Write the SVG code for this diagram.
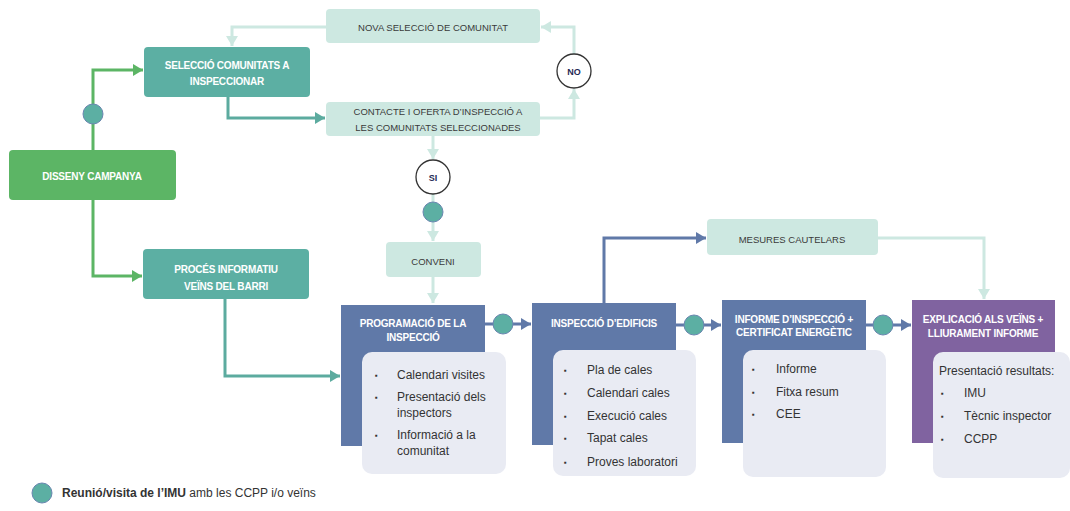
<svg xmlns="http://www.w3.org/2000/svg" width="1070" height="511" viewBox="0 0 1070 511">
<style>
.bg{fill:#ffffff}
.green{fill:#5cb565}
.teal{fill:#5cafa3}
.lt{fill:#cde8e1}
.dark{fill:#6079a8}
.purple{fill:#8063a0}
.card{fill:#e9ebf3}
.dot{fill:#5cafa3;stroke:#6a86b0;stroke-width:1}
.dec{fill:#ffffff;stroke:#333333;stroke-width:1.3}
.wt{font-family:"Liberation Sans",Arial,sans-serif;font-weight:bold;font-size:10px;fill:#ffffff;text-anchor:middle;letter-spacing:-0.2px}
.gt{font-family:"Liberation Sans",Arial,sans-serif;font-size:9.5px;fill:#3a3a3a;text-anchor:middle}
.dt{font-family:"Liberation Sans",Arial,sans-serif;font-weight:bold;font-size:9px;fill:#1f2a55;text-anchor:middle}
.lst{font-family:"Liberation Sans",Arial,sans-serif;font-size:12px;fill:#333333}
.bul{font-family:"Liberation Sans",Arial,sans-serif;font-size:8px;fill:#333333}
.leg{font-family:"Liberation Sans",Arial,sans-serif;font-size:12px;fill:#333333}
.c-green{fill:none;stroke:#5cb565;stroke-width:3}
.c-teal{fill:none;stroke:#5cab9f;stroke-width:3}
.c-lt{fill:none;stroke:#cde8e1;stroke-width:3}
.c-blue{fill:none;stroke:#6079a8;stroke-width:3}
</style>
<defs>
<marker id="ag" markerUnits="userSpaceOnUse" markerWidth="12" markerHeight="12" refX="10" refY="6" orient="auto"><path d="M0,0 L10,6 L0,12 Z" fill="#5cb565"/></marker>
<marker id="at" markerUnits="userSpaceOnUse" markerWidth="12" markerHeight="12" refX="10" refY="6" orient="auto"><path d="M0,0 L10,6 L0,12 Z" fill="#5cab9f"/></marker>
<marker id="al" markerUnits="userSpaceOnUse" markerWidth="12" markerHeight="12" refX="10" refY="6" orient="auto"><path d="M0,0 L10,6 L0,12 Z" fill="#cde8e1"/></marker>
<marker id="ab" markerUnits="userSpaceOnUse" markerWidth="12" markerHeight="12" refX="10" refY="6" orient="auto"><path d="M0,0 L10,6 L0,12 Z" fill="#6079a8"/></marker>
</defs>
<rect class="bg" x="0" y="0" width="1070" height="511"/>

<g id="connectors">
<path class="c-green" d="M93,150 V70 H143" marker-end="url(#ag)"/>
<path class="c-green" d="M93,200 V276 H142" marker-end="url(#ag)"/>
<path class="c-lt" d="M326,27 H232 V46" marker-end="url(#al)"/>
<path class="c-teal" d="M228,97 V118 H325" marker-end="url(#at)"/>
<path class="c-lt" d="M540,118 H574 V89" marker-end="url(#al)"/>
<path class="c-lt" d="M574,54 V27 H541" marker-end="url(#al)"/>
<path class="c-lt" d="M433,136 V159" marker-end="url(#al)"/>
<path class="c-lt" d="M433,194 V241" marker-end="url(#al)"/>
<path class="c-lt" d="M433,277 V303" marker-end="url(#al)"/>
<path class="c-teal" d="M225,299 V376 H340" marker-end="url(#at)"/>
<path class="c-blue" d="M485,324 H531" marker-end="url(#ab)"/>
<path class="c-blue" d="M676,325 H721" marker-end="url(#ab)"/>
<path class="c-blue" d="M866,325 H911" marker-end="url(#ab)"/>
<path class="c-blue" d="M604,303 V238 H706" marker-end="url(#ab)"/>
<path class="c-lt" d="M878,238 H984 V299" marker-end="url(#al)"/>
<circle class="dot" cx="93" cy="114" r="10"/>
<circle class="dot" cx="433" cy="212" r="10"/>
<circle class="dot" cx="503" cy="324" r="10"/>
<circle class="dot" cx="694" cy="325" r="10"/>
<circle class="dot" cx="883" cy="325" r="10"/>
</g>

<g id="disseny">
<rect class="green" x="9" y="150" width="167" height="50" rx="4"/>
<text class="wt" x="92" y="180">DISSENY CAMPANYA</text>
</g>

<g id="seleccio">
<rect class="teal" x="144" y="47" width="166" height="50" rx="4"/>
<text class="wt" x="227" y="69">SELECCIÓ COMUNITATS A</text>
<text class="wt" x="227" y="85">INSPECCIONAR</text>
</g>

<g id="proces">
<rect class="teal" x="143" y="249" width="166" height="50" rx="4"/>
<text class="wt" x="226" y="273">PROCÉS INFORMATIU</text>
<text class="wt" x="226" y="290">VEÏNS DEL BARRI</text>
</g>

<g id="nova">
<rect class="lt" x="326" y="9" width="214" height="34" rx="4"/>
<text class="gt" x="433" y="31">NOVA SELECCIÓ DE COMUNITAT</text>
</g>

<g id="contacte">
<rect class="lt" x="326" y="102" width="214" height="34" rx="4"/>
<text class="gt" x="438" y="115">CONTACTE I OFERTA D’INSPECCIÓ A</text>
<text class="gt" x="438" y="131">LES COMUNITATS SELECCIONADES</text>
</g>

<g id="no">
<circle class="dec" cx="574" cy="71" r="17"/>
<text class="dt" x="574" y="74.5">NO</text>
</g>

<g id="si">
<circle class="dec" cx="433" cy="177" r="17"/>
<text class="dt" x="433" y="180.5">SI</text>
</g>

<g id="conveni">
<rect class="lt" x="386" y="242" width="95" height="35" rx="4"/>
<text class="gt" x="433" y="265">CONVENI</text>
</g>

<g id="mesures">
<rect class="lt" x="707" y="219" width="171" height="36" rx="4"/>
<text class="gt" x="792" y="243">MESURES CAUTELARS</text>
</g>

<g id="programacio">
<rect class="dark" x="341" y="305" width="144" height="141"/>
<text class="wt" x="413" y="327">PROGRAMACIÓ DE LA</text>
<text class="wt" x="413" y="341">INSPECCIÓ</text>
<rect class="card" x="362" y="352" width="144" height="122" rx="10"/>
<text class="bul" x="375" y="378">▪</text>
<text class="lst" x="397" y="379">Calendari visites</text>
<text class="bul" x="375" y="400">▪</text>
<text class="lst" x="397" y="401">Presentació dels</text>
<text class="lst" x="397" y="417">inspectors</text>
<text class="bul" x="375" y="438">▪</text>
<text class="lst" x="397" y="439">Informació a la</text>
<text class="lst" x="397" y="455">comunitat</text>
</g>

<g id="inspeccio">
<rect class="dark" x="532" y="303" width="144" height="142"/>
<text class="wt" x="604" y="327">INSPECCIÓ D’EDIFICIS</text>
<rect class="card" x="553" y="350" width="143" height="126" rx="10"/>
<text class="bul" x="564" y="373">▪</text>
<text class="lst" x="587" y="374">Pla de cales</text>
<text class="bul" x="564" y="396">▪</text>
<text class="lst" x="587" y="397">Calendari cales</text>
<text class="bul" x="564" y="419">▪</text>
<text class="lst" x="587" y="420">Execució cales</text>
<text class="bul" x="564" y="441">▪</text>
<text class="lst" x="587" y="442">Tapat cales</text>
<text class="bul" x="564" y="465">▪</text>
<text class="lst" x="587" y="466">Proves laboratori</text>
</g>

<g id="informe">
<rect class="dark" x="722" y="300" width="144" height="143"/>
<text class="wt" x="794" y="323">INFORME D’INSPECCIÓ +</text>
<text class="wt" x="794" y="336">CERTIFICAT ENERGÈTIC</text>
<rect class="card" x="743" y="350" width="143" height="127" rx="10"/>
<text class="bul" x="752" y="372">▪</text>
<text class="lst" x="776" y="373">Informe</text>
<text class="bul" x="752" y="395">▪</text>
<text class="lst" x="776" y="396">Fitxa resum</text>
<text class="bul" x="752" y="417">▪</text>
<text class="lst" x="776" y="418">CEE</text>
</g>

<g id="explicacio">
<rect class="purple" x="912" y="300" width="143" height="143"/>
<text class="wt" x="983" y="323">EXPLICACIÓ ALS VEÏNS +</text>
<text class="wt" x="983" y="337">LLIURAMENT INFORME</text>
<rect class="card" x="933" y="352" width="137" height="126" rx="10"/>
<text class="lst" x="939" y="375">Presentació resultats:</text>
<text class="bul" x="941" y="396">▪</text>
<text class="lst" x="964" y="397">IMU</text>
<text class="bul" x="941" y="419">▪</text>
<text class="lst" x="964" y="420">Tècnic inspector</text>
<text class="bul" x="941" y="442">▪</text>
<text class="lst" x="964" y="443">CCPP</text>
</g>

<g id="legend">
<circle class="dot" cx="42" cy="493" r="10"/>
<text class="leg" x="62" y="497"><tspan font-weight="bold">Reunió/visita de l’IMU</tspan> amb les CCPP i/o veïns</text>
</g>
</svg>
